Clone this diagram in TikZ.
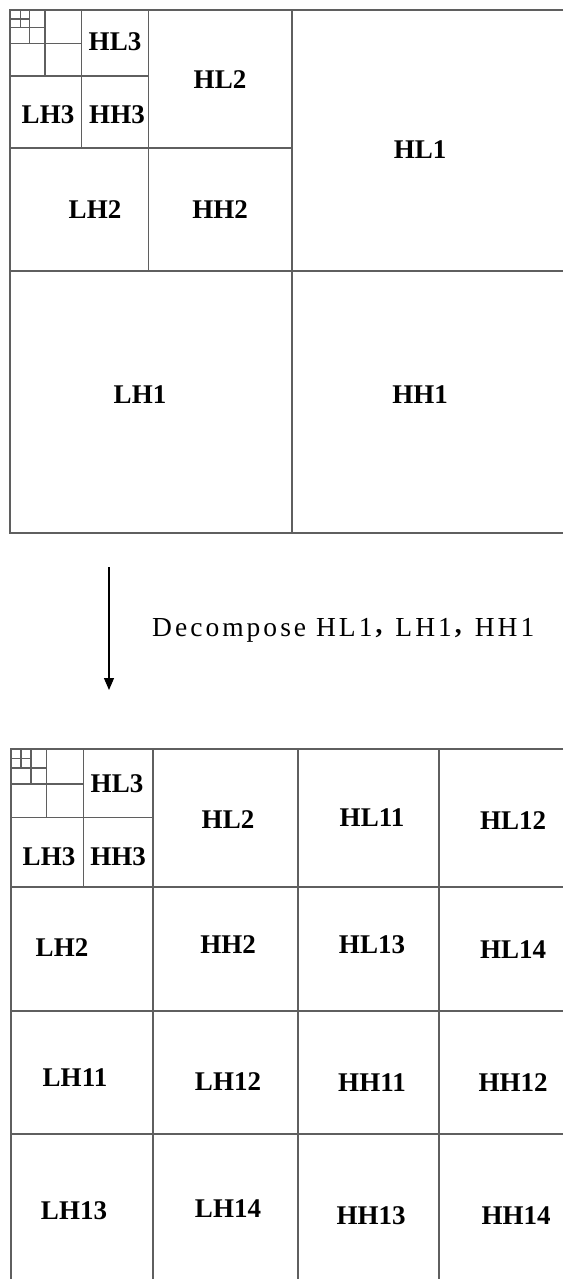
\documentclass[tikz,border=0pt]{standalone}
\usepackage{fontspec}
\setmainfont{Liberation Serif}
\newfontfamily\spacedserif[LetterSpace=11]{Liberation Serif}
\usetikzlibrary{arrows.meta}
\definecolor{gridgray}{RGB}{95,95,95}
\newcommand{\sepcomma}{\hspace{3pt}\raisebox{3pt}{\fontspec{Liberation Serif}\bfseries ,}\hspace{13pt}}
\begin{document}
\begin{tikzpicture}[x=1pt,y=-1pt,
  grid/.style={draw=gridgray, line width=1.2pt},
  lbl/.style={font=\fontsize{27}{30}\selectfont\bfseries, inner sep=0pt},
  flow/.style={draw=black, line width=1.2pt, -{Triangle[length=12pt,width=10pt]}}]
\useasboundingbox (0,0) rectangle (563,1279);
\fill[white] (0,0) rectangle (563,1279);

% ---- upper pyramid: three-level decomposition ----
\draw[grid] (563,10) -- (10,10) -- (10,533) -- (563,533);
\draw[grid] (10,271) -- (563,271);
\draw[grid] (292,10) -- (292,533);
\draw[grid] (148.5,10) -- (148.5,271);
\draw[grid] (10,148) -- (292,148);
\draw[grid] (81.5,10) -- (81.5,148);
\draw[grid] (10,76) -- (148.5,76);
\draw[grid] (45,10) -- (45,76);
\draw[grid] (10,43.3) -- (81.5,43.3);
\draw[grid] (29.3,10) -- (29.3,43.3);
\draw[grid] (10,27.7) -- (45,27.7);
\draw[grid] (20.5,10) -- (20.5,27.7);
\draw[grid] (10,19) -- (29.3,19);

\node[lbl] (tHL3) at (115,42) {HL3};
\node[lbl] (tLH3) at (48,115) {LH3};
\node[lbl] (tHH3) at (117,115) {HH3};
\node[lbl] (tHL2) at (220,80) {HL2};
\node[lbl] (tLH2) at (95,210) {LH2};
\node[lbl] (tHH2) at (220,210) {HH2};
\node[lbl] (tHL1) at (420,150) {HL1};
\node[lbl] (tLH1) at (140,395) {LH1};
\node[lbl] (tHH1) at (420,395) {HH1};

% ---- transition arrow ----
\coordinate (arrowtop) at (109,567);
\coordinate (arrowend) at (109,690);
\draw[flow] (arrowtop) -- (arrowend);
\node[anchor=base west, inner sep=0pt, font=\fontsize{27.5}{30}\selectfont\spacedserif]
  (caption) at (152,636) {Decompose HL1\sepcomma LH1\sepcomma HH1};

% ---- lower pyramid: first level split once more ----
\draw[grid] (563,749) -- (11,749) -- (11,1279);
\draw[grid] (11,887) -- (563,887);
\draw[grid] (11,1011) -- (563,1011);
\draw[grid] (11,1134) -- (563,1134);
\draw[grid] (153,749) -- (153,1279);
\draw[grid] (298,749) -- (298,1279);
\draw[grid] (439,749) -- (439,1279);
\draw[grid] (83.3,749) -- (83.3,887);
\draw[grid] (11,817.7) -- (153,817.7);
\draw[grid] (46.7,749) -- (46.7,817.7);
\draw[grid] (11,784) -- (83.3,784);
\draw[grid] (31,749) -- (31,784);
\draw[grid] (11,768) -- (46.7,768);
\draw[grid] (21,749) -- (21,768);
\draw[grid] (11,758.5) -- (31,758.5);

\node[lbl] (bHL3) at (117,784) {HL3};
\node[lbl] (bLH3) at (49,857) {LH3};
\node[lbl] (bHH3) at (118,857) {HH3};
\node[lbl] (bHL2) at (228,820) {HL2};
\node[lbl] (bHL11) at (372,818) {HL11};
\node[lbl] (bHL12) at (513,821) {HL12};
\node[lbl] (bLH2) at (62,948) {LH2};
\node[lbl] (bHH2) at (228,945) {HH2};
\node[lbl] (bHL13) at (372,945) {HL13};
\node[lbl] (bHL14) at (513,950) {HL14};
\node[lbl] (bLH11) at (75,1078) {LH11};
\node[lbl] (bLH12) at (228,1082) {LH12};
\node[lbl] (bHH11) at (372,1083) {HH11};
\node[lbl] (bHH12) at (513,1083) {HH12};
\node[lbl] (bLH13) at (74,1211) {LH13};
\node[lbl] (bLH14) at (228,1209) {LH14};
\node[lbl] (bHH13) at (371,1216) {HH13};
\node[lbl] (bHH14) at (516,1216) {HH14};
\end{tikzpicture}
\end{document}
